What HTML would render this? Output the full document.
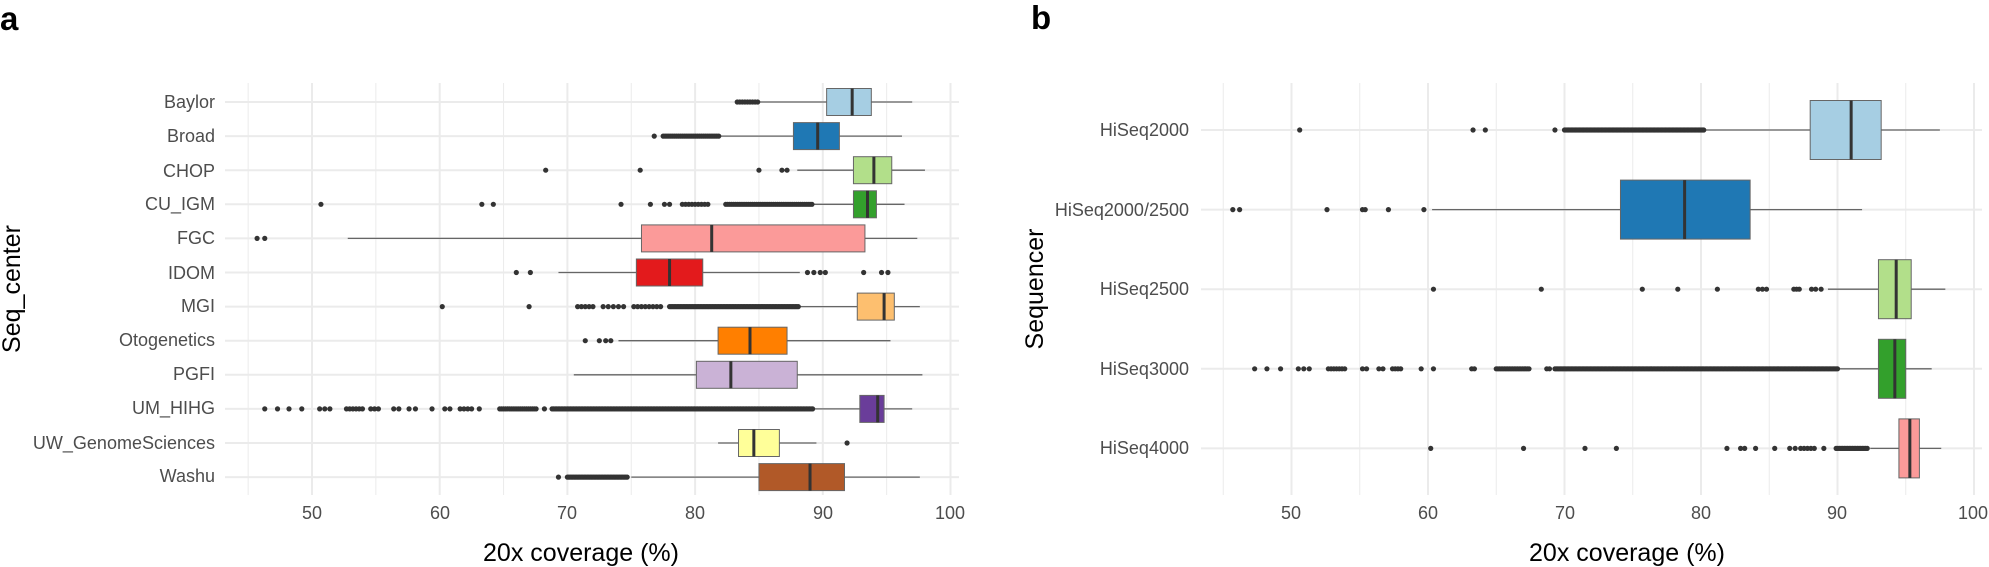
<!DOCTYPE html>
<html><head><meta charset="utf-8"><style>
html,body{margin:0;padding:0;background:#fff;width:1989px;height:567px;overflow:hidden}
text{font-family:"Liberation Sans",sans-serif}
.lab{font-size:18px;fill:#4d4d4d}
.tk{font-size:18px;fill:#4d4d4d}
.ttl{font-size:25px;fill:#000}
</style></head><body>
<svg id="s" width="1989" height="567" xmlns="http://www.w3.org/2000/svg">
<g id="grid"></g><g id="plot"></g>
<text x="0" y="30" style="font-size:33px;font-weight:bold">a</text>
<text x="1031" y="29" style="font-size:33px;font-weight:bold">b</text>
<g class="lab" text-anchor="end">
<text x="215" y="108">Baylor</text><text x="215" y="142">Broad</text><text x="215" y="177">CHOP</text>
<text x="215" y="210">CU_IGM</text><text x="215" y="244">FGC</text><text x="215" y="279">IDOM</text>
<text x="215" y="312">MGI</text><text x="215" y="346">Otogenetics</text><text x="215" y="380">PGFI</text>
<text x="215" y="414">UM_HIHG</text><text x="215" y="449">UW_GenomeSciences</text><text x="215" y="482">Washu</text>
<text x="1189" y="136">HiSeq2000</text><text x="1189" y="216">HiSeq2000/2500</text><text x="1189" y="295">HiSeq2500</text>
<text x="1189" y="375">HiSeq3000</text><text x="1189" y="454">HiSeq4000</text>
</g>
<g class="tk" text-anchor="middle">
<text x="312" y="519">50</text><text x="440" y="519">60</text><text x="567" y="519">70</text><text x="695" y="519">80</text><text x="823" y="519">90</text><text x="950" y="519">100</text>
<text x="1291" y="519">50</text><text x="1428" y="519">60</text><text x="1565" y="519">70</text><text x="1701" y="519">80</text><text x="1837" y="519">90</text><text x="1973" y="519">100</text>
</g>
<text class="ttl" x="581" y="561" text-anchor="middle">20x coverage (%)</text>
<text class="ttl" x="1627" y="561" text-anchor="middle">20x coverage (%)</text>
<text class="ttl" transform="translate(20,289) rotate(-90)" text-anchor="middle">Seq_center</text>
<text class="ttl" transform="translate(1043,289) rotate(-90)" text-anchor="middle">Sequencer</text>
</svg>
<script>
var NS="http://www.w3.org/2000/svg",G=document.getElementById('grid'),P=document.getElementById('plot');
function el(p,t,a){var e=document.createElementNS(NS,t);for(var k in a)e.setAttribute(k,a[k]);p.appendChild(e);return e;}
function panel(o){
  var X=function(v){return o.x0+(v-50)*o.k;};
  for(var v=45;v<=100;v+=5){var maj=v%10==0;el(G,'line',{x1:X(v),x2:X(v),y1:o.top,y2:o.bot,stroke:'#ebebeb','stroke-width':maj?2:1});}
  o.rows.forEach(function(r,i){var y=o.y0+i*o.dy;el(G,'line',{x1:o.left,x2:o.right,y1:y,y2:y,stroke:'#ebebeb','stroke-width':2});});
  o.rows.forEach(function(r,i){
    var y=o.y0+i*o.dy,h=o.h;
    el(P,'line',{x1:X(r.w[0]),x2:X(r.w[1]),y1:y,y2:y,stroke:'#666','stroke-width':1.3});
    el(P,'rect',{x:X(r.b[0]),y:y-h/2,width:X(r.b[1])-X(r.b[0]),height:h,fill:r.c,stroke:'#666','stroke-width':1});
    el(P,'line',{x1:X(r.m),x2:X(r.m),y1:y-h/2,y2:y+h/2,stroke:'#333','stroke-width':3});
    var pts=[];(r.o||[]).forEach(function(s){
      if(typeof s=='number')pts.push(s);
      else{for(var v=s[0];v<=s[1];v+=(s[2]||0.15))pts.push(v);}
    });
    pts.forEach(function(v){el(P,'circle',{cx:X(v),cy:y,r:2.6,fill:'#333'});});
  });
}
panel({x0:312,k:12.77,top:83,bot:495,left:225,right:959,y0:102,dy:34.1,h:27,rows:[
 {c:'#a6cee3',b:[90.3,93.8],m:92.3,w:[85,97],o:[[83.3,85,0.2]]},
 {c:'#1f78b4',b:[87.7,91.3],m:89.6,w:[82,96.2],o:[76.8,[77.5,82,0.15]]},
 {c:'#b2df8a',b:[92.4,95.4],m:94,w:[88,98],o:[68.3,75.7,85,86.8,87.2]},
 {c:'#33a02c',b:[92.4,94.2],m:93.5,w:[89.2,96.4],o:[50.7,63.3,64.2,74.2,76.5,77.6,78,[79,81,0.25],[82.4,89.2,0.15]]},
 {c:'#fb9a99',b:[75.8,93.3],m:81.3,w:[52.8,97.4],o:[45.7,46.3]},
 {c:'#e31a1c',b:[75.4,80.6],m:78,w:[69.3,88.2],o:[66,67.1,88.8,89.3,89.8,90.2,93.2,94.6,95.1]},
 {c:'#fdbf6f',b:[92.7,95.6],m:94.8,w:[88.2,97.6],o:[60.2,67,[70.8,72,0.3],[72.8,74.5,0.4],[75.2,77.5,0.3],[78,88.2,0.12]]},
 {c:'#ff7f00',b:[81.8,87.2],m:84.3,w:[74,95.3],o:[71.4,72.5,73,73.4]},
 {c:'#cab2d6',b:[80.1,88],m:82.8,w:[70.5,97.8],o:[]},
 {c:'#6a3d9a',b:[92.9,94.8],m:94.3,w:[89.3,97],o:[46.3,47.3,48.2,49.2,50.6,51,51.4,[52.7,54,0.25],[54.6,55.3,0.3],56.4,56.8,57.6,58.1,59.4,60.4,60.8,[61.6,62.5,0.3],63.1,[64.7,67.6,0.15],68.2,[68.8,89.3,0.12]]},
 {c:'#ffff99',b:[83.4,86.6],m:84.6,w:[81.8,89.5],o:[91.9]},
 {c:'#b15928',b:[85,91.7],m:89,w:[75,97.6],o:[69.3,[70,74.8,0.12]]}
]});
panel({x0:1291.5,k:13.65,top:83,bot:495,left:1201,right:1982,y0:130,dy:79.6,h:59,rows:[
 {c:'#a6cee3',b:[88,93.2],m:91,w:[80.2,97.5],o:[50.6,63.3,64.2,69.3,[70,80.2,0.1]]},
 {c:'#1f78b4',b:[74.1,83.6],m:78.8,w:[60.3,91.8],o:[45.7,46.2,52.6,55.2,55.4,57.1,59.7]},
 {c:'#b2df8a',b:[93,95.4],m:94.3,w:[89.3,97.9],o:[60.4,68.3,75.7,78.3,81.2,84.2,84.5,84.8,86.8,87,87.2,88.1,88.4,88.8]},
 {c:'#33a02c',b:[93,95],m:94.2,w:[90,96.9],o:[47.3,48.2,49.2,50.5,50.9,51.3,[52.7,54,0.2],55.2,55.5,56.4,56.7,[57.4,58.1,0.2],59.5,60.4,63.2,63.4,[65,67.5,0.12],68.7,68.9,[69.3,90,0.1]]},
 {c:'#fb9a99',b:[94.5,96],m:95.3,w:[92.4,97.6],o:[60.2,67,71.5,73.8,81.9,82.9,83.2,84,85.4,86.5,86.9,[87.3,88.4,0.25],89,[89.9,92.3,0.12]]}
]});
</script>
</body></html>
